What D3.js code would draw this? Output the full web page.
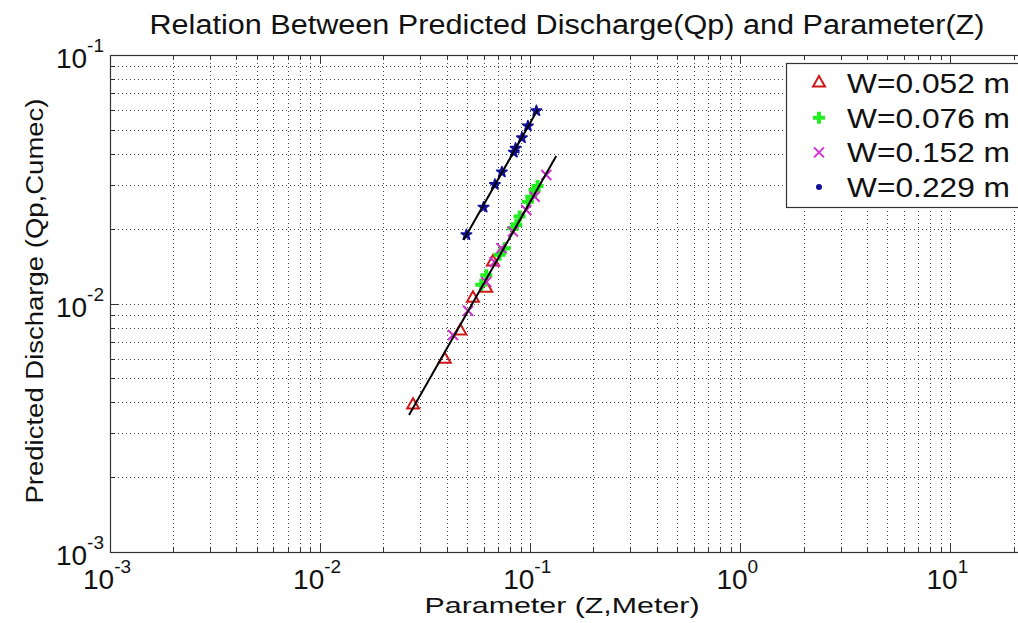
<!DOCTYPE html>
<html>
<head>
<meta charset="utf-8">
<script src="https://cdn.jsdelivr.net/npm/d3@7"></script>
<style>
  body { margin: 0; background: #fff; }
  text { font-family: "Liberation Sans", Arial, sans-serif; fill: #111; }
</style>
</head>
<body>
<svg id="chart" width="1018" height="623"></svg>
<script>
// data: [Z (m), Qp (cumec)]
const w052 = [[0.0277, 0.00390], [0.0392, 0.00596], [0.0465, 0.00775], [0.0534, 0.0105],
  [0.0618, 0.0115], [0.0665, 0.0147]];
const w076 = [[0.0585, 0.0119], [0.0618, 0.0130], [0.0715, 0.0157], [0.0756, 0.0167],
  [0.0828, 0.0201], [0.0859, 0.0207], [0.0890, 0.0224], [0.0975, 0.0257],
  [0.1012, 0.0269], [0.1050, 0.0286], [0.1084, 0.0297]];
const w152 = [[0.0429, 0.00747], [0.0506, 0.00935], [0.0618, 0.0122], [0.0677, 0.0147],
  [0.0729, 0.0167], [0.0828, 0.0195], [0.0958, 0.0238], [0.1050, 0.0269], [0.1193, 0.0329]];
const w229 = [[0.0497, 0.0189], [0.0600, 0.0244], [0.0679, 0.0301], [0.0733, 0.0338],
  [0.0836, 0.0406], [0.0852, 0.0421], [0.0913, 0.0464], [0.0975, 0.0518], [0.1070, 0.0596]];
// fitted power lines, end points
const fitSmall = [[0.0265, 0.00356], [0.133, 0.0392]];
const fitLarge = [[0.0482, 0.0180], [0.1088, 0.0605]];

const legendLabels = ['W=0.052 m', 'W=0.076 m', 'W=0.152 m', 'W=0.229 m'];
const xTicks = [1e-3, 1e-2, 1e-1, 1, 10];
const xTickExp = ['-3', '-2', '-1', '0', '1'];
const yTicks = [1e-3, 1e-2, 1e-1];
const yTickExp = ['-3', '-2', '-1'];

const svg = d3.select('#chart');
const pLeft = 110, pRight = 1034, pTop = 55, pBottom = 552;

const x = d3.scaleLog().domain([1e-3, 25]).range([pLeft, pRight]);
const y = d3.scaleLog().domain([1e-3, 1e-1]).range([pBottom, pTop]);

const minorOf = (scale) => {
  const [a, b] = scale.domain();
  const out = [];
  for (let e = Math.floor(Math.log10(a)); e <= Math.ceil(Math.log10(b)); e++) {
    for (let m = 1; m <= 9; m++) {
      const v = m * Math.pow(10, e);
      if (v >= a * 0.999 && v <= b * 1.001) out.push(v);
    }
  }
  return out;
};
const xGrid = minorOf(x);
const yGrid = minorOf(y);
const isMajor = (v) => Math.abs(Math.log10(v) - Math.round(Math.log10(v))) < 1e-9;

// plot area
svg.append('rect')
  .attr('x', pLeft).attr('y', pTop)
  .attr('width', pRight - pLeft).attr('height', pBottom - pTop)
  .attr('fill', '#fff');

// dotted grid
const grid = svg.append('g')
  .attr('stroke', '#444')
  .attr('stroke-width', 1)
  .attr('stroke-dasharray', '1,3');
grid.selectAll('line.gx').data(xGrid.filter(v => v > 1.001e-3)).enter().append('line')
  .attr('class', 'gx')
  .attr('x1', d => Math.round(x(d)) + 0.5).attr('x2', d => Math.round(x(d)) + 0.5)
  .attr('y1', pTop).attr('y2', pBottom);
grid.selectAll('line.gy').data(yGrid.filter(v => v > 1.001e-3 && v < 0.0999)).enter().append('line')
  .attr('class', 'gy')
  .attr('y1', d => Math.round(y(d)) + 0.5).attr('y2', d => Math.round(y(d)) + 0.5)
  .attr('x1', pLeft).attr('x2', pRight);

// ticks (inside, all four sides)
const ticks = svg.append('g').attr('stroke', '#333').attr('stroke-width', 1);
const tickLen = (v) => isMajor(v) ? 8 : 5;
xGrid.forEach((v) => {
  const px = Math.round(x(v)) + 0.5;
  ticks.append('line').attr('x1', px).attr('x2', px).attr('y1', pBottom).attr('y2', pBottom - tickLen(v));
  ticks.append('line').attr('x1', px).attr('x2', px).attr('y1', pTop).attr('y2', pTop + tickLen(v));
});
yGrid.forEach((v) => {
  const py = Math.round(y(v)) + 0.5;
  ticks.append('line').attr('y1', py).attr('y2', py).attr('x1', pLeft).attr('x2', pLeft + tickLen(v));
});

// axes box
svg.append('rect')
  .attr('x', pLeft + 0.5).attr('y', pTop + 0.5)
  .attr('width', pRight - pLeft).attr('height', pBottom - pTop)
  .attr('fill', 'none').attr('stroke', '#333').attr('stroke-width', 1.2);

// tick labels, 10^n
const xLab = svg.append('g');
xTicks.forEach((v, i) => {
  const t = xLab.append('text')
    .attr('x', x(v) - 3).attr('y', pBottom + 37)
    .attr('text-anchor', 'middle')
    .style('font-size', '28px');
  t.append('tspan').text('10');
  t.append('tspan').attr('dy', -16).style('font-size', '19px').text(xTickExp[i]);
});
const yLab = svg.append('g');
yTicks.forEach((v, i) => {
  const t = yLab.append('text')
    .attr('x', pLeft - 6).attr('y', y(v) + 13)
    .attr('text-anchor', 'end')
    .style('font-size', '28px');
  t.append('tspan').text('10');
  t.append('tspan').attr('dy', -16).style('font-size', '19px').text(yTickExp[i]);
});

// titles
svg.append('text')
  .attr('x', 567).attr('y', 34)
  .attr('text-anchor', 'middle')
  .attr('textLength', 835).attr('lengthAdjust', 'spacingAndGlyphs')
  .style('font-size', '27px')
  .text('Relation Between Predicted Discharge(Qp) and Parameter(Z)');
svg.append('text')
  .attr('x', 562).attr('y', 613)
  .attr('text-anchor', 'middle')
  .attr('textLength', 275).attr('lengthAdjust', 'spacingAndGlyphs')
  .style('font-size', '22px')
  .text('Parameter (Z,Meter)');
svg.append('text')
  .attr('transform', 'translate(43,301) rotate(-90)')
  .attr('text-anchor', 'middle')
  .attr('textLength', 405).attr('lengthAdjust', 'spacingAndGlyphs')
  .style('font-size', '23px')
  .text('Predicted Discharge (Qp,Cumec)');

// marker drawers
const drawTriangle = (g) => g.append('path')
  .attr('d', d3.symbol(d3.symbolTriangle, 62)())
  .attr('fill', 'none').attr('stroke', '#d01818').attr('stroke-width', 2);
const drawPlus = (g) => g.append('path')
  .attr('d', 'M-6,0H6M0,-6V6')
  .attr('stroke', '#22ee22').attr('stroke-width', 4);
const drawCross = (g) => g.append('path')
  .attr('d', 'M-5,-5L5,5M-5,5L5,-5')
  .attr('stroke', '#d030d0').attr('stroke-width', 2);
const drawStar = (g) => g.append('path')
  .attr('d', d3.symbol(d3.symbolStar, 34)())
  .attr('fill', '#10109a').attr('stroke', '#10109a').attr('stroke-width', 1.6)
  .attr('stroke-linejoin', 'round');
const drawDot = (g) => g.append('circle')
  .attr('r', 3).attr('fill', '#10109a');

const series = [
  { data: w052, draw: drawTriangle, key: drawTriangle },
  { data: w076, draw: drawPlus, key: drawPlus },
  { data: w152, draw: drawCross, key: drawCross },
  { data: w229, draw: drawStar, key: drawDot }
];

const plot = svg.append('g');
series.forEach((s) => {
  plot.append('g').selectAll('g').data(s.data).enter().append('g')
    .attr('transform', d => 'translate(' + x(d[0]) + ',' + y(d[1]) + ')')
    .each(function() { s.draw(d3.select(this)); });
});

// fit lines on top
const line = d3.line().x(d => x(d[0])).y(d => y(d[1]));
[fitSmall, fitLarge].forEach((f) => {
  plot.append('path')
    .attr('d', line(f))
    .attr('fill', 'none').attr('stroke', '#000').attr('stroke-width', 2);
});

// legend
const legend = svg.append('g');
legend.append('rect')
  .attr('x', 786.5).attr('y', 63.5)
  .attr('width', 245).attr('height', 144)
  .attr('fill', '#fff').attr('stroke', '#333').attr('stroke-width', 1.2);
legendLabels.forEach((label, i) => {
  const cy = 83 + i * 34.7;
  const g = legend.append('g').attr('transform', 'translate(819,' + cy + ')');
  series[i].key(g);
  legend.append('text')
    .attr('x', 847).attr('y', cy + 10)
    .attr('textLength', 163).attr('lengthAdjust', 'spacingAndGlyphs')
    .style('font-size', '28px')
    .text(label);
});
</script>
</body>
</html>
